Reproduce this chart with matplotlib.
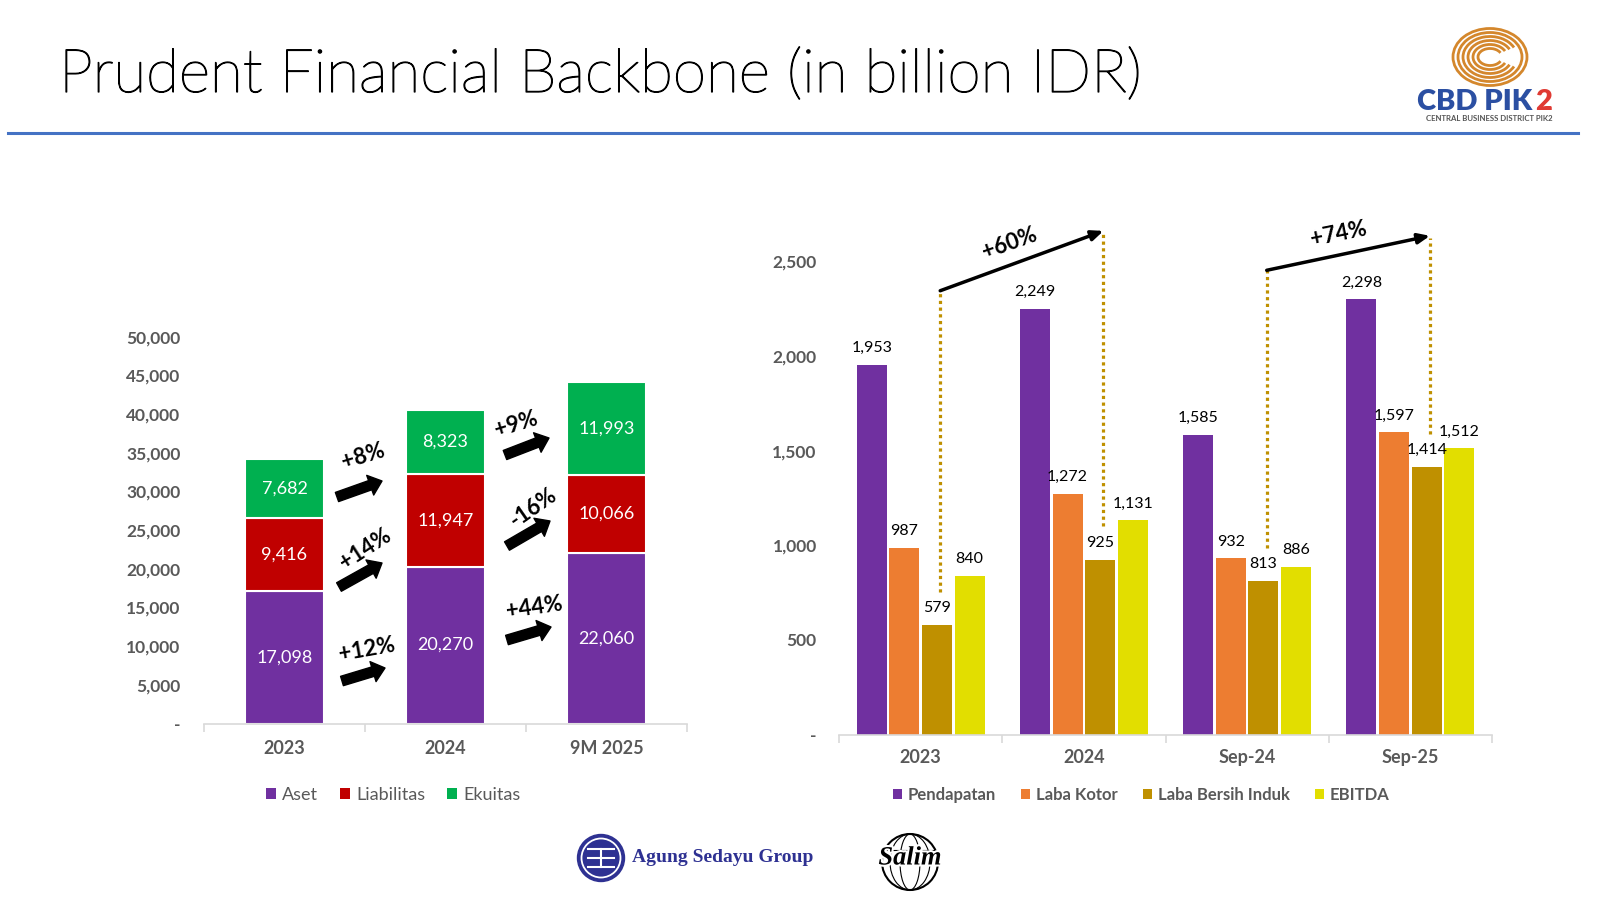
import matplotlib
matplotlib.use('Agg')
import matplotlib.pyplot as plt
from matplotlib.patches import Patch, Arc, Ellipse
import matplotlib.patheffects as pe
import numpy as np

plt.rcParams['font.family'] = ['Lato', 'DejaVu Sans']

# balance sheet (left chart)
bs_years = ['2023', '2024', '9M 2025']
aset = [17098, 20270, 22060]
liabilitas = [9416, 11947, 10066]
ekuitas = [7682, 8323, 11993]
bs_names = ['Aset', 'Liabilitas', 'Ekuitas']
bs_colors = ['#7030A0', '#C00000', '#00B050']

# growth labels between the stacks (bottom, middle, top)
bs_growth_1 = ['+12%', '+14%', '+8%']
bs_growth_2 = ['+44%', '-16%', '+9%']

# income statement (right chart)
pl_periods = ['2023', '2024', 'Sep-24', 'Sep-25']
pendapatan = [1953, 2249, 1585, 2298]
laba_kotor = [987, 1272, 932, 1597]
laba_bersih = [579, 925, 813, 1414]
ebitda = [840, 1131, 886, 1512]
pl_names = ['Pendapatan', 'Laba Kotor', 'Laba Bersih Induk', 'EBITDA']
pl_colors = ['#7030A0', '#ED7D31', '#BF9000', '#E2DE00']

pl_growth = ['+60%', '+74%']

GRAY = '#595959'
W, H = 1600, 900


def fx(x):
    return x / W


def fy(y):
    return 1 - y / H


fig = plt.figure(figsize=(16, 9), dpi=100)
fig.patch.set_facecolor('white')

# ---- title + header line
title = fig.text(fx(59), fy(92), 'Prudent Financial Backbone (in billion IDR)',
                 fontsize=36, fontweight='light', va='baseline', ha='left', color='black',
                 path_effects=[pe.withStroke(linewidth=0.9, foreground='black')])
fig.canvas.draw()
bb = title.get_window_extent()
title.set_fontsize(36 * 1082 / bb.width)
fig.add_artist(plt.Line2D([fx(8), fx(1578)], [fy(133), fy(133)],
                          color='#4472C4', lw=2.2, transform=fig.transFigure))

# ---- left chart: stacked bars
ax1 = fig.add_axes([fx(204), fy(723.5), (687 - 204) / W, (723.5 - 336.7) / H])
x1 = np.arange(len(bs_years))
bottom = np.zeros(len(bs_years))
for vals, col, name in zip([aset, liabilitas, ekuitas], bs_colors, bs_names):
    ax1.bar(x1, vals, 0.49, bottom=bottom, color=col, edgecolor='white', linewidth=1.5)
    for xi, b, v in zip(x1, bottom, vals):
        ax1.text(xi, b + v / 2, f'{v:,}', ha='center', va='center', color='white',
                 fontsize=13)
    bottom += np.array(vals)

ax1.set_xlim(-0.5, 2.5)
ax1.set_ylim(0, 50000)
yt = np.arange(0, 50001, 5000)
ax1.set_yticks(yt)
ax1.set_yticklabels(['-' if v == 0 else f'{v:,}' for v in yt])
ax1.set_xticks(x1)
ax1.set_xticklabels(bs_years)
ax1.set_xticks([-0.5, 0.5, 1.5, 2.5], minor=True)

# ---- right chart: grouped bars
ax2 = fig.add_axes([fx(839), fy(734.7), (1492 - 839) / W, (734.7 - 261.2) / H])
x2 = np.arange(len(pl_periods))
offsets = [-0.3, -0.1, 0.1, 0.3]
for vals, col, off in zip([pendapatan, laba_kotor, laba_bersih, ebitda], pl_colors, offsets):
    ax2.bar(x2 + off, vals, 0.184, color=col)
    for xi, v in zip(x2, vals):
        ax2.annotate(f'{v:,}', (xi + off, v), xytext=(0, 12), textcoords='offset points',
                     ha='center', va='center', fontsize=11.5, color='black')

ax2.set_xlim(-0.5, 3.5)
ax2.set_ylim(0, 2500)
yt2 = np.arange(0, 2501, 500)
ax2.set_yticks(yt2)
ax2.set_yticklabels(['-' if v == 0 else f'{v:,}' for v in yt2])
ax2.set_xticks(x2)
ax2.set_xticklabels(pl_periods)
ax2.set_xticks([-0.5, 0.5, 1.5, 2.5, 3.5], minor=True)

for ax, pad, xpad in [(ax1, 17, 12), (ax2, 16, 10)]:
    for s in ['top', 'right', 'left']:
        ax.spines[s].set_visible(False)
    ax.spines['bottom'].set_color('#D9D9D9')
    ax.spines['bottom'].set_linewidth(1.2)
    ax.tick_params(axis='y', length=0, pad=pad, labelsize=12.5, labelcolor=GRAY)
    ax.tick_params(axis='x', which='major', length=0, pad=xpad, labelsize=13, labelcolor=GRAY)
    ax.tick_params(axis='x', which='minor', length=6, color='#D9D9D9', width=1.2)
    for lab in ax.get_xticklabels() + ax.get_yticklabels():
        lab.set_fontweight('bold')
    ax.set_facecolor('none')

# ---- legends
ax1.legend(handles=[Patch(facecolor=c, label=n) for c, n in zip(bs_colors, bs_names)],
           loc='center', bbox_to_anchor=(fx(393), fy(795)), bbox_transform=fig.transFigure,
           ncol=3, frameon=False, handlelength=0.55, handleheight=0.55, handletextpad=0.35,
           columnspacing=1.2, fontsize=13, labelcolor=GRAY)
ax2.legend(handles=[Patch(facecolor=c, label=n) for c, n in zip(pl_colors, pl_names)],
           loc='center', bbox_to_anchor=(fx(1141), fy(795)), bbox_transform=fig.transFigure,
           ncol=4, frameon=False, handlelength=0.55, handleheight=0.55, handletextpad=0.35,
           columnspacing=1.5, prop={'weight': 'bold', 'size': 12}, labelcolor=GRAY)

# ---- left chart growth arrows (figure pixels from top-left)
fat = dict(arrowstyle='simple,head_length=0.9,head_width=1.5,tail_width=0.7',
           mutation_scale=10, fc='black', ec='black', shrinkA=0, shrinkB=0)
left_arrows = [
    # tail, tip, text pos, rotation
    ((342, 681), (385, 668), (367, 650), 10),
    ((339, 587), (382, 563), (365, 549), 33),
    ((337, 497), (382, 481), (363, 456), 17),
]
right_arrows = [
    ((507, 640), (551, 627), (534, 608), 8),
    ((507, 546), (550, 521), (533, 508), 35),
    ((505, 455), (549, 438), (516, 424), 17),
]
for labels, arrows in [(bs_growth_1, left_arrows), (bs_growth_2, right_arrows)]:
    for lab, (tail, tip, tpos, rot) in zip(labels, arrows):
        ax1.annotate('', xy=(tip[0], H - tip[1]), xytext=(tail[0], H - tail[1]),
                     xycoords='figure pixels', textcoords='figure pixels', arrowprops=fat)
        fig.text(fx(tpos[0]), fy(tpos[1]), lab, fontsize=16, fontweight='bold',
                 rotation=rot, ha='center', va='center', rotation_mode='anchor')

# ---- right chart growth markers on Laba Bersih Induk
gold_off = 0.1 + 0.02
pairs = [(0, 1), (2, 3)]
tops = [(2344, 2650), (2452, 2624)]
for lab, (i0, i1), (t0, t1) in zip(pl_growth, pairs, tops):
    xa, xb = i0 + gold_off, i1 + gold_off
    for xx, v, t in [(xa, laba_bersih[i0], t0), (xb, laba_bersih[i1], t1)]:
        ax2.plot([xx, xx], [v + 175, t], color='#BF9000', lw=2.3,
                 linestyle=(0, (1, 1.1)), clip_on=False)
    ax2.annotate('', xy=(xb, t1 + 10), xytext=(xa, t0), annotation_clip=False,
                 arrowprops=dict(arrowstyle='-|>,head_length=0.7,head_width=0.3',
                                 lw=2.5, color='black', shrinkA=0, shrinkB=0))
    pa = ax2.transData.transform((xa, t0))
    pb = ax2.transData.transform((xb, t1))
    ang = np.degrees(np.arctan2(pb[1] - pa[1], pb[0] - pa[0]))
    mid = (pa + pb) / 2
    nrm = np.array([-np.sin(np.radians(ang)), np.cos(np.radians(ang))])
    tp = mid + nrm * 20 - np.array([6, 0])
    fig.text(tp[0] / W, tp[1] / H, lab, fontsize=16, fontweight='bold',
             rotation=ang, ha='center', va='center', rotation_mode='anchor')

# ---- CBD PIK2 logo
orange = '#D4872C'
cx, cy = fx(1490), fy(57)
for i, (w, h) in enumerate([(74, 57), (64, 49), (54, 41), (44, 33), (34, 25), (24, 17)]):
    if i < 2:
        art = Ellipse((cx, cy), w / W, h / H, fill=False, ec=orange, lw=2.0,
                      transform=fig.transFigure)
    else:
        art = Arc((cx, cy), w / W, h / H, theta1=35, theta2=325, ec=orange, lw=2.0,
                  transform=fig.transFigure)
    fig.add_artist(art)
fig.text(fx(1532), fy(102), 'CBD PIK', fontsize=21, fontweight='heavy', color='#2B4FA2',
         ha='right', va='center')
fig.text(fx(1535), fy(102), '2', fontsize=21, fontweight='heavy', color='#E03A33',
         ha='left', va='center')
fig.text(fx(1489), fy(118), 'CENTRAL BUSINESS DISTRICT PIK2', fontsize=5.6,
         fontweight='bold', color='#555555', ha='center', va='center')

# ---- bottom logos
blue = '#2E3192'
fig.add_artist(Ellipse((fx(601), fy(858)), 47 / W, 47 / H, color=blue, transform=fig.transFigure))
fig.add_artist(Ellipse((fx(601), fy(858)), 39 / W, 39 / H, fill=False, ec='white', lw=1.3,
                       transform=fig.transFigure))
for dy in [-9, 0, 9]:
    fig.add_artist(plt.Line2D([fx(588), fx(614)], [fy(858 + dy), fy(858 + dy)], color='white',
                              lw=1.5, transform=fig.transFigure))
fig.add_artist(plt.Line2D([fx(601), fx(601)], [fy(849), fy(867)], color='white', lw=1.5,
                          transform=fig.transFigure))
fig.text(fx(632), fy(857), 'Agung Sedayu Group', fontsize=14, fontweight='bold',
         family='Liberation Serif', color=blue, ha='left', va='center')

fig.add_artist(Ellipse((fx(910), fy(862)), 56 / W, 56 / H, fill=False, ec='black', lw=1.5,
                       transform=fig.transFigure))
for w in [20, 40]:
    fig.add_artist(Ellipse((fx(910), fy(862)), w / W, 56 / H, fill=False, ec='black', lw=0.8,
                           transform=fig.transFigure))
fig.add_artist(plt.Line2D([fx(884), fx(936)], [fy(850), fy(850)], color='black', lw=0.8,
                          transform=fig.transFigure))
fig.text(fx(910), fy(858), 'Salim', fontsize=19, fontweight='bold', fontstyle='italic',
         family='Liberation Serif', color='black', ha='center', va='center',
         path_effects=[pe.withStroke(linewidth=3, foreground='white')])

fig.savefig('out.png', dpi=100, facecolor='white')
